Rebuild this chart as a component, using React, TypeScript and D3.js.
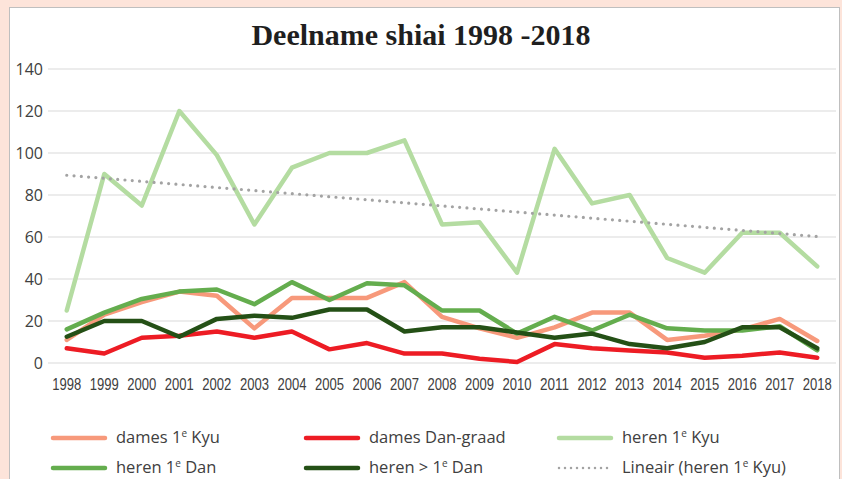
import React from "react";
import * as d3 from "d3";

const years = [
  "1998", "1999", "2000", "2001", "2002", "2003", "2004", "2005", "2006", "2007", "2008",
  "2009", "2010", "2011", "2012", "2013", "2014", "2015", "2016", "2017", "2018",
];

const damesKyu = [11, 23, 29, 34, 32, 16.5, 31, 31, 31, 38.5, 22, 16.5, 12, 17, 24, 24, 11, 13, 16, 21, 10.5];
const damesDan = [7, 4.5, 12, 13, 15, 12, 15, 6.5, 9.5, 4.5, 4.5, 2, 0.5, 9, 7, 6, 5, 2.5, 3.5, 5, 2.5];
const herenKyu = [25, 90, 75, 120, 99, 66, 93, 100, 100, 106, 66, 67, 43, 102, 76, 80, 50, 43, 62, 62, 46];
const herenDan = [16, 24, 30.5, 34, 35, 28, 38.5, 30, 38, 37, 25, 25, 14, 22, 15.5, 23, 16.5, 15.5, 15.5, 17.5, 6];
const herenDanPlus = [12.5, 20, 20, 12.5, 21, 22.5, 21.5, 25.5, 25.5, 15, 17, 17, 14.5, 12, 14, 9, 7, 10, 17, 17, 7];

const yTicks = [0, 20, 40, 60, 80, 100, 120, 140];

const series = [
  { label: "dames 1^e Kyu", values: damesKyu, color: "#f7997b" },
  { label: "dames Dan-graad", values: damesDan, color: "#ed1c24" },
  { label: "heren 1^e Kyu", values: herenKyu, color: "#b4dca1" },
  { label: "heren 1^e Dan", values: herenDan, color: "#64ad4e" },
  { label: "heren > 1^e Dan", values: herenDanPlus, color: "#245016" },
];
const trendLabel = "Lineair (heren 1^e Kyu)";
const trendColor = "#a3a3a3";

const W = 842;
const H = 479;

// renders "1^e" as 1 with superscript e
const Label = ({ text, x, y }: { text: string; x: number; y: number }) => {
  const parts = text.split("^e");
  return (
    <text x={x} y={y} fontFamily="'Open Sans', sans-serif" fontSize={16.5} fill="#404040">
      {parts.map((p, i) => (
        <React.Fragment key={i}>
          <tspan dy={i > 0 ? 6 : 0}>{p}</tspan>
          {i < parts.length - 1 && (
            <tspan fontSize={10} dy={-6}>
              {"e"}
            </tspan>
          )}
        </React.Fragment>
      ))}
    </text>
  );
};

export default function App() {
  const x = d3.scaleBand<string>().domain(years).range([48, 836]);
  const y = d3.scaleLinear().domain([0, 140]).range([363, 69]);
  const cx = (i: number) => (x(years[i]) ?? 0) + x.bandwidth() / 2;

  const line = d3
    .line<number>()
    .x((_, i) => cx(i))
    .y((d) => y(d));

  // linear trendline (least squares) of heren 1e Kyu
  const mx = d3.mean(herenKyu.map((_, i) => i)) ?? 0;
  const my = d3.mean(herenKyu) ?? 0;
  const slope =
    d3.sum(herenKyu, (v, i) => (i - mx) * (v - my)) / d3.sum(herenKyu, (_, i) => (i - mx) ** 2);
  const trend = herenKyu.map((_, i) => my + slope * (i - mx));

  const legendCols = [53, 306, 559];
  const legendRows = [438, 468];
  const legendItems = [
    ...series.map((s) => ({ label: s.label, color: s.color, dotted: false })),
    { label: trendLabel, color: trendColor, dotted: true },
  ];

  return (
    <div style={{ position: "absolute", left: 0, top: 0, width: W, height: H }}>
      <svg width={W} height={H}>
        <rect x={0} y={0} width={W} height={H} fill="#fde4da" />
        <rect x={9.5} y={7.5} width={830} height={H} fill="#fff" stroke="#bfbfbf" strokeWidth={1} />
        <text
          x={421}
          y={45}
          textAnchor="middle"
          fontFamily="'Liberation Serif', serif"
          fontWeight="bold"
          fontSize={30}
          fill="#1f1f1f"
        >
          Deelname shiai 1998 -2018
        </text>

        {yTicks.map((t) => (
          <g key={t}>
            <line x1={48} x2={836} y1={y(t)} y2={y(t)} stroke="#d9d9d9" strokeWidth={1} />
            <text
              x={43}
              y={y(t) + 6}
              textAnchor="end"
              fontFamily="'Open Sans', sans-serif"
              fontSize={16}
              fill="#404040"
            >
              {t}
            </text>
          </g>
        ))}

        {years.map((yr, i) => (
          <text
            key={yr}
            x={cx(i)}
            y={390}
            textAnchor="middle"
            fontFamily="'Liberation Sans', sans-serif"
            fontSize={16}
            textLength={29}
            lengthAdjust="spacingAndGlyphs"
            fill="#404040"
          >
            {yr}
          </text>
        ))}

        {series.map((s) => (
          <path
            key={s.label}
            d={line(s.values) ?? ""}
            fill="none"
            stroke={s.color}
            strokeWidth={4.5}
            strokeLinejoin="round"
            strokeLinecap="round"
          />
        ))}

        <path
          d={line(trend) ?? ""}
          fill="none"
          stroke={trendColor}
          strokeWidth={3.2}
          strokeDasharray="0 7.3"
          strokeLinecap="round"
        />

        {legendItems.map((it, k) => {
          const lx = legendCols[k % 3];
          const ly = legendRows[Math.floor(k / 3)];
          return (
            <g key={it.label}>
              <line
                x1={lx}
                x2={lx + 52}
                y1={ly}
                y2={ly}
                stroke={it.color}
                strokeWidth={it.dotted ? 2.5 : 4.5}
                strokeLinecap="round"
                strokeDasharray={it.dotted ? "0 6" : undefined}
              />
              <Label text={it.label} x={lx + 63} y={ly + 5} />
            </g>
          );
        })}
      </svg>
    </div>
  );
}
